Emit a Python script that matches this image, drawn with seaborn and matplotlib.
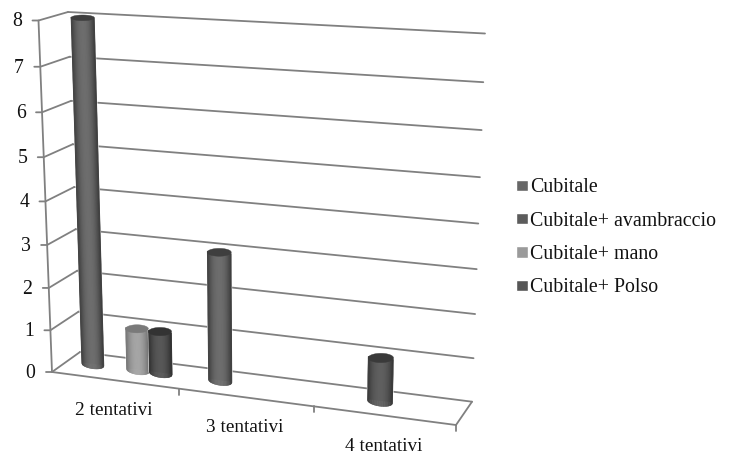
import numpy as np
import pandas as pd
import matplotlib
matplotlib.use("Agg")
import matplotlib.pyplot as plt
from matplotlib.collections import PolyCollection
from matplotlib.colors import to_rgb
from matplotlib.patches import Polygon
from matplotlib.transforms import IdentityTransform, Transform
import seaborn as sns

# ---- data
categories = ["2 tentativi", "3 tentativi", "4 tentativi"]
cubitale = [8, 3, 0]
avambraccio = [0, 0, 1]
mano = [1, 0, 0]
polso = [1, 0, 0]
series_names = ["Cubitale", "Cubitale+ avambraccio", "Cubitale+ mano", "Cubitale+ Polso"]
y_ticks = [0, 1, 2, 3, 4, 5, 6, 7, 8]

# ---- style
W, H = 730, 454
legend_colors = ["#676767", "#5c5c5c", "#9a9a9a", "#565656"]
shades = {  # edge, centre, top cap
    "#676767": ("#383838", "#6e6e6e", "#3e3e3e"),
    "#5c5c5c": ("#333333", "#606060", "#3a3a3a"),
    "#9a9a9a": ("#6e6e6e", "#a6a6a6", "#7a7a7a"),
    "#565656": ("#2c2c2c", "#585858", "#333333"),
}
GRID = "#808080"
LW = 1.3
FONT = "Liberation Serif"

sns.set_theme(style="white")
plt.rcParams["font.family"] = [FONT, "DejaVu Sans"]


def homography(src, dst):
    A, b = [], []
    for (x, y), (u, v) in zip(src, dst):
        A.append([x, y, 1, 0, 0, 0, -u * x, -u * y]); b.append(u)
        A.append([0, 0, 0, x, y, 1, -v * x, -v * y]); b.append(v)
    return np.append(np.linalg.solve(np.array(A, float), np.array(b, float)), 1).reshape(3, 3)


class Projection(Transform):
    """Category/value plane -> display pixels of the perspective box."""
    input_dims = output_dims = 2
    is_affine = False

    def __init__(self, matrix):
        super().__init__()
        self.m = matrix

    def transform_non_affine(self, values):
        v = np.atleast_2d(values)
        p = np.c_[v, np.ones(len(v))] @ self.m.T
        return np.c_[p[:, 0] / p[:, 2], H - p[:, 1] / p[:, 2]]


# plane corners in image pixels (layout of the 3-D box): x=-.5/2.5, y=0/8
XL, XR, Y0, Y1 = -0.5, 2.5, 0, 8
SRC = [(XL, Y0), (XR, Y0), (XL, Y1), (XR, Y1)]
FRONT_PX = np.array([(52, 372), (456, 425), (38.5, 20.5), (468, 43.5)], float)
BACK_PX = np.array([(80, 352), (472, 401.7), (68, 12), (485, 33.5)], float)
MID_PX = (FRONT_PX + BACK_PX) / 2 + np.array([(-1.5, -1), (0, -1), (-0.5, 0), (0, 0)])
front = Projection(homography(SRC, FRONT_PX))
back = Projection(homography(SRC, BACK_PX))
mid = Projection(homography(SRC, MID_PX))

df = pd.DataFrame({
    "cat": categories * 4,
    "serie": np.repeat(series_names, 3),
    "val": cubitale + avambraccio + mano + polso,
})

fig = plt.figure(figsize=(W / 100, H / 100), dpi=100)
ax = fig.add_axes([0, 0, 1, 1])
sns.barplot(data=df, x="cat", y="val", hue="serie", hue_order=series_names,
            palette=legend_colors, order=categories, width=0.72, gap=0,
            errorbar=None, saturation=1, ax=ax)
ax.set_xlim(XL, XR)
ax.set_ylim(Y0, Y1)
ax.set_axis_off()


def seg(p, q, **kw):
    ax.plot(*np.array([p, q]).T, transform=kw.pop("tr"), color=GRID, lw=LW,
            clip_on=False, zorder=1, solid_capstyle="round", **kw)


# walls: gridlines, axes, floor
for v in y_ticks:
    a = front.transform([[XL, v]])[0]
    b = back.transform([[XL, v]])[0]
    ax.plot([a[0] - 6, a[0], b[0]], [a[1], a[1], b[1]], transform=IdentityTransform(),
            color=GRID, lw=LW, clip_on=False, zorder=1)
    seg((XL, v), (XR, v), tr=back)
    ax.text(a[0] - 16.5, a[1] - 1.5, str(v), transform=IdentityTransform(), ha="right",
            va="center", fontsize=14.2, color="#111111")
seg((XL, Y0), (XL, Y1), tr=front)
seg((XL, Y0), (XR, Y0), tr=front)
a = front.transform([[XR, Y0]])[0]
b = back.transform([[XR, Y0]])[0]
ax.plot([a[0], b[0]], [a[1], b[1]], transform=IdentityTransform(), color=GRID, lw=LW,
        clip_on=False, zorder=1)
for i, cat in enumerate(categories):
    t = front.transform([[i + 0.5, 0]])[0]
    ax.plot([t[0], t[0]], [t[1], t[1] - 6], transform=IdentityTransform(), color=GRID,
            lw=LW, clip_on=False, zorder=1)
    c = front.transform([[i, 0]])[0]
    ax.text(c[0] - 0.5, c[1] - 30.5, cat, transform=IdentityTransform(), ha="center",
            va="center", fontsize=13.9, color="#111111")


# cylinders built from the bars seaborn made
def ratio(py):
    return np.interp(py, [20, 370], [0.24, 0.37])


def blend(c1, c2, f):
    return tuple(np.array(to_rgb(c1)) * (1 - f) + np.array(to_rgb(c2)) * f)


z = 3
for patch in list(ax.patches):
    h = patch.get_height()
    if not h > 0:
        patch.set_visible(False)
        continue
    x0, w = patch.get_x(), patch.get_width()
    hexc = matplotlib.colors.to_hex(patch.get_facecolor())
    edge, centre, cap = shades[hexc]
    patch.set_transform(mid)
    patch.set_clip_on(False)
    patch.set_zorder(z)
    bl, br = mid.transform([[x0, 0], [x0 + w, 0]])
    tl, tr = mid.transform([[x0, h], [x0 + w, h]])
    n = 40
    ts = np.linspace(0, 1, n + 1)
    rb = (br[0] - bl[0]) / 2
    rt = (tr[0] - tl[0]) / 2
    ky_b = ratio(H - bl[1]) * rb
    ky_t = ratio(H - tl[1]) * rt
    polys, cols = [], []
    for i in range(n):
        pts = []
        for t in (ts[i], ts[i + 1]):
            s = 2 * t - 1
            pts.append(bl + (br - bl) * t + [0, -ky_b * np.sqrt(max(0, 1 - s * s))])
        for t in (ts[i + 1], ts[i]):
            pts.append(tl + (tr - tl) * t)
        polys.append(pts)
        s = ts[i] + ts[i + 1] - 1
        cols.append(blend(edge, centre, (1 - abs(s) ** 2.2)))
    ax.add_collection(PolyCollection(polys, facecolors=cols, edgecolors=cols, linewidths=0.3,
                                     transform=IdentityTransform(), zorder=z + 0.1), autolim=False)
    th = np.linspace(0, 2 * np.pi, 60)
    cen = (tl + tr) / 2
    ell = np.c_[cen[0] + rt * np.cos(th), cen[1] + ky_t * np.sin(th)]
    ax.add_patch(Polygon(ell, closed=True, facecolor=cap, edgecolor=cap, lw=0.3,
                         transform=IdentityTransform(), zorder=z + 0.2, clip_on=False))
    z += 1

sns.move_legend(ax, "upper left", bbox_to_anchor=(516 / W, 1 - 178.5 / H),
                bbox_transform=fig.transFigure, title=None, frameon=False, fontsize=14.3,
                handlelength=0.58, handleheight=0.5, handletextpad=0.12, labelspacing=0.72,
                borderpad=0, borderaxespad=0)
for txt in ax.get_legend().get_texts():
    txt.set_color("#111111")

fig.savefig("out.png", dpi=100, facecolor="white")
